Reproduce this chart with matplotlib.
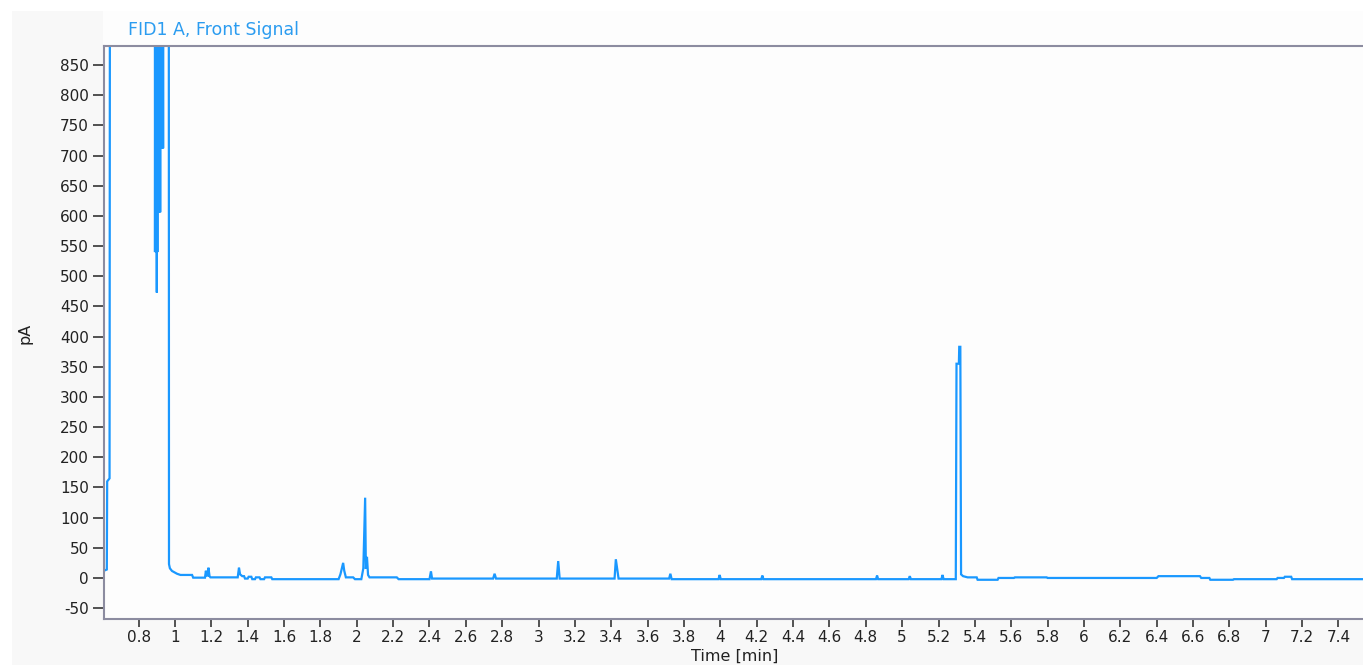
import matplotlib
matplotlib.use('Agg')
import matplotlib.pyplot as plt
from matplotlib.patches import Rectangle
import numpy as np

plt.rcParams['axes.unicode_minus'] = False

# chromatogram trace (time in min, signal in pA)
# values of 1000 are off scale (above the top of the plot)
time_min = [0.6095, 0.625, 0.627, 0.640, 0.642, 0.8895,
            0.890, 0.8915, 0.8930, 0.8945, 0.8960, 0.8975, 0.9000, 0.9015, 0.9030, 0.9045,
            0.9065, 0.9085, 0.9105, 0.9125, 0.9145, 0.9165, 0.9185, 0.9205,
            0.9225, 0.9245, 0.9265, 0.9285, 0.9305, 0.9325, 0.9345, 0.9360,
            0.966, 0.967, 0.972, 0.9835, 1.011, 1.030, 1.094, 1.100, 1.165,
            1.170, 1.175, 1.180, 1.184, 1.190, 1.195, 1.345, 1.352, 1.358, 1.370, 1.380,
            1.385, 1.400, 1.405, 1.420, 1.425, 1.440, 1.445, 1.465, 1.470, 1.490,
            1.495, 1.530, 1.535, 1.900,
            1.910, 1.925, 1.931, 1.940, 1.980, 1.990, 2.025, 2.036, 2.046, 2.050,
            2.056, 2.062, 2.070, 2.220, 2.230, 2.400, 2.408, 2.414,
            2.750, 2.758, 2.766, 3.100, 3.108, 3.116, 3.418, 3.425, 3.440,
            3.718, 3.725, 3.732, 3.990, 3.996, 4.002, 4.225, 4.231, 4.237,
            4.856, 4.862, 4.868, 5.036, 5.042, 5.048, 5.216, 5.222, 5.228,
            5.295, 5.299, 5.312, 5.314, 5.320, 5.324, 5.335, 5.360,
            5.410, 5.415, 5.525, 5.530, 5.615, 5.620, 5.795, 5.800, 6.400, 6.410,
            6.638, 6.645, 6.690, 6.695, 6.820, 6.825, 7.060, 7.065, 7.100, 7.105,
            7.140, 7.145, 7.535]
signal_pa = [12, 14, 160, 165, 1000, 1000,
             540, 1000, 545, 1000, 540, 1000, 473, 1000, 540, 1000,
             606, 1000, 606, 1000, 606, 1000, 606, 1000,
             712, 1000, 712, 1000, 712, 1000, 712, 1000,
             1000, 23, 16, 11.6, 7, 5, 5, 0.5, 0.5,
             12, 4, 4, 17, 3, 1, 1, 17, 6, 3, 3,
             -1, -1, 2, 2, -2, -2, 1, 1, -2, -2,
             1, 1, -2, -2,
             6, 25, 12, 1, 1, -2, -2, 16, 133, 15,
             35, 5, 1, 1, -2, -2, 11, -1,
             -1, 7, -1, -1, 28, -1, -1, 31, -1,
             -1, 7, -2, -2, 5, -2, -2, 4, -2,
             -2, 4, -2, -2, 3, -2, -2, 5, -2,
             -2, 355, 355, 383, 383, 6, 3, 1,
             1, -3, -3, 0, 0, 1, 1, 0, 0, 3,
             3, 0, 0, -3, -3, -2, -2, 0, 0, 2,
             2, -2, -2]

xticks = np.round(np.arange(0.8, 7.41, 0.2), 1)
xlabels = ['%g' % v for v in xticks]
yticks = list(range(-50, 851, 50))

line_col = '#1a98ff'
spine_col = '#8c8ca0'

fig = plt.figure(figsize=(13.63, 6.67), dpi=100, facecolor='white')
W, H = 1363.0, 667.0
# light grey panel behind the chart, whiter band above the axes
fig.patches.append(Rectangle((12 / W, 1 - 665 / H), (W - 12) / W, (665 - 11) / H,
                             transform=fig.transFigure, facecolor='#f8f8f8',
                             edgecolor='none', zorder=-10))
fig.patches.append(Rectangle((103 / W, 1 - 46 / H), (W - 103) / W, (46 - 11) / H,
                             transform=fig.transFigure, facecolor='#fdfdfd',
                             edgecolor='none', zorder=-9))

ax = fig.add_axes([104 / W, 1 - 619 / H, (W - 104) / W, (619 - 46) / H])
ax.set_zorder(1)
ax.set_facecolor('#fdfdfd')
ax.plot(time_min, signal_pa, color=line_col, linewidth=1.6, solid_joinstyle='miter')
ax.set_xlim(0.6095, 7.535)
ax.set_ylim(-68, 881.5)

ax.set_xticks(xticks)
ax.set_xticklabels(xlabels)
ax.set_yticks(yticks)
ax.tick_params(axis='both', direction='out', colors='#444444', labelcolor='#222222',
               labelsize=11, width=1.3)
ax.tick_params(axis='y', length=8, pad=3)
ax.tick_params(axis='x', length=6, pad=2)
for s in ['left', 'bottom', 'top']:
    ax.spines[s].set_color(spine_col)
    ax.spines[s].set_linewidth(1.5)
ax.spines['right'].set_visible(False)

fig.text(128 / W, 1 - 30 / H, 'FID1 A, Front Signal', color='#2b9cf0',
         fontsize=12.5, ha='left', va='center')
fig.text(25 / W, 1 - 333 / H, 'pA', color='#222222', fontsize=11.5,
         rotation=90, ha='center', va='center')
fig.text(735 / W, 1 - 649 / H, 'Time [min]', color='#222222', fontsize=11.5,
         ha='center', va='top')

plt.savefig('out.png', dpi=100, facecolor=fig.get_facecolor())
plt.close()
